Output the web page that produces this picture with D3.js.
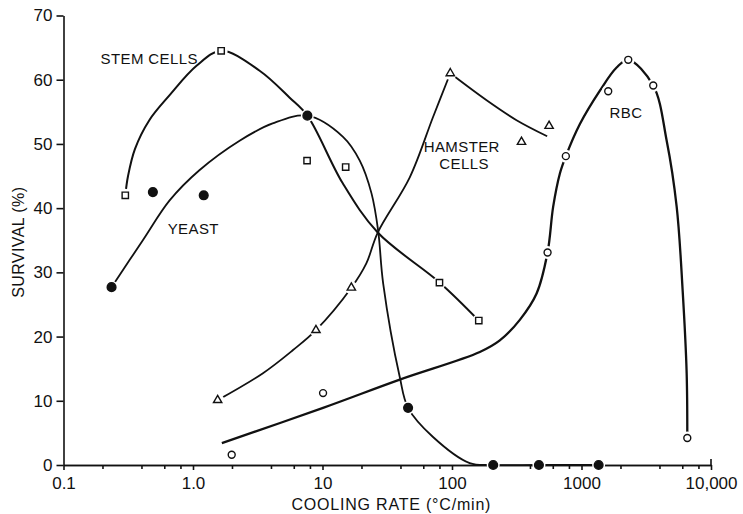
<!DOCTYPE html>
<meta charset="utf-8">
<style>

body {
  margin: 0;
  background: #fff;
}

.axis path, .axis line {
  stroke: #111;
  stroke-width: 1.6;
}

.axis text {
  font: 17px "Liberation Sans", Arial, sans-serif;
  fill: #111;
}

.label {
  font: 15px "Liberation Sans", Arial, sans-serif;
  letter-spacing: 0.4px;
  fill: #111;
}

.curve {
  fill: none;
  stroke: #111;
}

</style>
<body>
<script src="https://d3js.org/d3.v7.min.js"></script>
<script>

// tick labels
var xTickValues = [0.1, 1, 10, 100, 1000, 10000];
var xTickLabels = ["0.1", "1.0", "10", "100", "1000", "10,000"];
var yTickValues = [0, 10, 20, 30, 40, 50, 60, 70];

// measured points [cooling rate, survival %]
var stemPts = [[0.30, 42.0], [1.65, 64.5], [7.6, 47.4], [15.1, 46.4], [80, 28.4], [161, 22.5]];
var yeastPts = [[0.235, 27.7], [0.49, 42.5], [1.21, 42.0], [7.64, 54.4], [45.8, 8.9], [208, 0], [469, 0], [1356, 0]];
var hamsterPts = [[1.55, 10.1], [8.9, 21.0], [16.7, 27.6], [97, 61.0], [344, 50.3], [562, 52.8]];
var rbcPts = [[1.99, 1.6], [10.1, 11.2], [547, 33.1], [757, 48.1], [1608, 58.2], [2296, 63.1], [3581, 59.1], [6561, 4.2]];

// fitted curves as drawn
var stemCurve = [[0.3, 42], [0.315, 45], [0.356, 49.2], [0.46, 53.7], [0.66, 57.6], [1.07, 62.2], [1.65, 64.5], [3.27, 61.4],
    [5.58, 57.2], [7.64, 54.4], [14.3, 43.9], [26.7, 36.2], [80.5, 28.4], [161, 22.5]];
var yeastCurve = [[0.235, 27.7], [0.41, 35.0], [0.66, 41.2], [1.12, 45.9], [2.29, 50.5], [4.12, 53.2], [7.64, 54.4],
    [14.4, 51.1], [19.4, 47.4], [23.9, 42.3], [26.9, 36.5], [29.4, 28.3], [39.5, 13.7], [45.8, 8.9],
    [71, 4.4], [137, 0.3], [208, 0], [469, 0], [1356, 0]];
var hamsterRise = [[1.55, 10.1], [3.47, 14.3], [5.92, 17.9], [8.9, 21.0], [16.7, 27.6], [21.8, 31.4], [26.7, 36.2],
    [47.2, 44.8], [71.4, 54.2], [97, 61]];
var hamsterFall = [[97, 61], [185, 56.8], [315, 53.7], [543, 51.2]];
var rbcCurve = [[1.67, 3.4], [10.1, 8.9], [39.5, 13.3], [164, 17.6], [234, 19.4], [334, 22.6], [450, 26.7],
    [547, 33.1], [604, 40.2], [681, 45.4], [757, 48.1], [972, 53.1], [1387, 58.3], [1867, 61.9], [2296, 63.1],
    [3581, 59.1], [4548, 50.5], [5433, 40.2], [6040, 27.2], [6487, 14.3], [6561, 4.2]];

var margin = {top: 15.5, right: 32, bottom: 49, left: 63.5},
    width = 743 - margin.left - margin.right,
    height = 514 - margin.top - margin.bottom;

var svg = d3.select("body").append("svg")
    .attr("width", 743)
    .attr("height", 514)
  .append("g")
    .attr("transform", "translate(" + margin.left + "," + margin.top + ")");

var x = d3.scaleLog()
    .domain([0.1, 10000])
    .range([0, width]);

var y = d3.scaleLinear()
    .domain([0, 70])
    .range([height, 0]);

// minor ticks at 2,4,6,8 of each decade
var minorTicks = [];
for (var p = -1; p < 4; p++) {
    [2, 4, 6, 8].forEach(function(m) { minorTicks.push(m * Math.pow(10, p)); });
}

svg.append("g")
    .attr("class", "axis")
    .attr("transform", "translate(0," + height + ")")
    .call(d3.axisBottom(x).tickValues(minorTicks).tickSize(4).tickFormat("").tickSizeOuter(0));

svg.append("g")
    .attr("class", "axis axis--x")
    .attr("transform", "translate(0," + height + ")")
    .call(d3.axisBottom(x).tickValues(xTickValues).tickSize(5).tickPadding(7).tickSizeOuter(0)
        .tickFormat(function(d, i) { return xTickLabels[i]; }));

// end tick at 10,000 points up
svg.append("line")
    .attr("x1", x(10000)).attr("x2", x(10000))
    .attr("y1", height).attr("y2", height - 6)
    .attr("stroke", "#111").attr("stroke-width", 1.6);

svg.append("g")
    .attr("class", "axis axis--y")
    .call(d3.axisLeft(y).tickValues(yTickValues).tickSize(7).tickPadding(4).tickSizeOuter(0));

svg.append("text")
    .attr("class", "label")
    .attr("x", x(34))
    .attr("y", height + 45)
    .attr("text-anchor", "middle")
    .style("font-size", "16px")
    .style("letter-spacing", "0.8px")
    .text("COOLING RATE (°C/min)");

svg.append("text")
    .attr("class", "label")
    .attr("transform", "translate(" + (-40) + "," + (y(35) + 2) + ") rotate(-90)")
    .attr("text-anchor", "middle")
    .style("font-size", "16px")
    .text("SURVIVAL (%)");

var line = d3.line()
    .x(function(d) { return x(d[0]); })
    .y(function(d) { return y(d[1]); })
    .curve(d3.curveCatmullRom.alpha(0.5));

[[stemCurve, 2], [yeastCurve, 1.8], [hamsterRise, 1.8], [hamsterFall, 1.8], [rbcCurve, 2.3]].forEach(function(c) {
    svg.append("path")
        .attr("class", "curve")
        .attr("stroke-width", c[1])
        .attr("d", line(c[0]));
});

// white halos so the lines break around the markers
var allPts = stemPts.concat(yeastPts, hamsterPts, rbcPts);
svg.selectAll(".halo")
    .data(allPts)
  .enter().append("circle")
    .attr("class", "halo")
    .attr("cx", function(d) { return x(d[0]); })
    .attr("cy", function(d) { return y(d[1]); })
    .attr("r", 6.5)
    .attr("fill", "#fff");

function markers(data, type, size, filled) {
    svg.selectAll(null)
        .data(data)
      .enter().append("path")
        .attr("transform", function(d) { return "translate(" + x(d[0]) + "," + y(d[1]) + ")"; })
        .attr("d", d3.symbol().type(type).size(size))
        .attr("fill", filled ? "#111" : "#fff")
        .attr("stroke", "#111")
        .attr("stroke-width", 1.4);
}

markers(stemPts, d3.symbolSquare, 40, false);
markers(hamsterPts, d3.symbolTriangle, 30, false);
markers(rbcPts, d3.symbolCircle, 38, false);
markers(yeastPts, d3.symbolCircle, 60, true);

// series names
[["STEM CELLS", 0.459, 62.5], ["YEAST", 1.005, 36.0], ["HAMSTER", 119, 48.8], ["CELLS", 124, 46.1], ["RBC", 2207, 54.1]]
    .forEach(function(t) {
        svg.append("text")
            .attr("class", "label")
            .attr("x", x(t[1]))
            .attr("y", y(t[2]))
            .attr("text-anchor", "middle")
            .text(t[0]);
    });

</script>
